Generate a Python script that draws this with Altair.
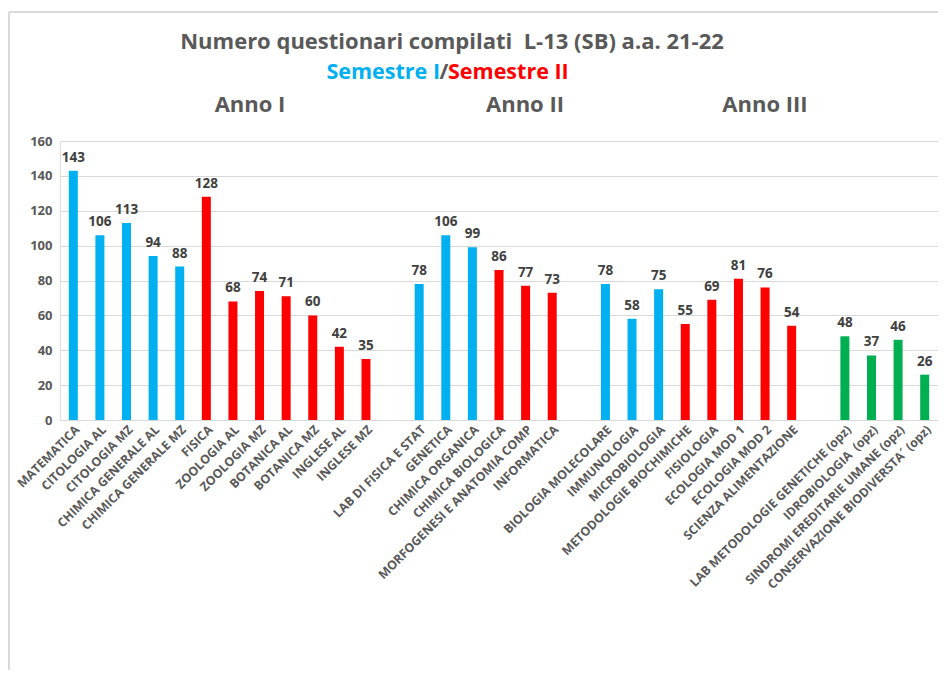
import altair as alt
import pandas as pd

# ---- data ----
anno1 = ["MATEMATICA", "CITOLOGIA AL", "CITOLOGIA MZ", "CHIMICA GENERALE AL", "CHIMICA GENERALE MZ",
         "FISICA", "ZOOLOGIA AL", "ZOOLOGIA MZ", "BOTANICA AL", "BOTANICA MZ", "INGLESE AL", "INGLESE MZ"]
anno1_vals = [143, 106, 113, 94, 88, 128, 68, 74, 71, 60, 42, 35]
anno1_sem = ["I", "I", "I", "I", "I", "II", "II", "II", "II", "II", "II", "II"]

anno2 = ["LAB DI FISICA E STAT", "GENETICA", "CHIMICA ORGANICA", "CHIMICA BIOLOGICA",
         "MORFOGENESI E ANATOMIA COMP", "INFORMATICA"]
anno2_vals = [78, 106, 99, 86, 77, 73]
anno2_sem = ["I", "I", "I", "II", "II", "II"]

anno3 = ["BIOLOGIA MOLECOLARE", "IMMUNOLOGIA", "MICROBIOLOGIA", "METODOLOGIE BIOCHIMICHE",
         "FISIOLOGIA", "ECOLOGIA MOD 1", "ECOLOGIA MOD 2", "SCIENZA ALIMENTAZIONE"]
anno3_vals = [78, 58, 75, 55, 69, 81, 76, 54]
anno3_sem = ["I", "I", "I", "II", "II", "II", "II", "II"]

opz = ["LAB METODOLOGIE GENETICHE (opz)", "IDROBIOLOGIA\u00a0\u00a0(opz)", "SINDROMI EREDITARIE UMANE (opz)",
       "CONSERVAZIONE BIODIVERSTA´ (opz)"]
opz_vals = [48, 37, 46, 26]
opz_sem = ["opz", "opz", "opz", "opz"]

y_ticks = [0, 20, 40, 60, 80, 100, 120, 140, 160]

domain = anno1 + [" "] + anno2 + ["  "] + anno3 + ["   "] + opz

df = pd.DataFrame({
    "corso": anno1 + anno2 + anno3 + opz,
    "valore": anno1_vals + anno2_vals + anno3_vals + opz_vals,
    "semestre": anno1_sem + anno2_sem + anno3_sem + opz_sem,
})

FONT = "Open Sans"
GRAY = "#595959"

x_enc = alt.X("corso:N", sort=domain,
              scale=alt.Scale(domain=domain, paddingInner=0.66, paddingOuter=0.33),
              axis=alt.Axis(title=None, labelAngle=-45, labelAlign="right", labelBaseline="top",
                            labelFont=FONT, labelFontSize=12.3, labelFontWeight="bold", labelColor=GRAY,
                            labelPadding=3, ticks=False, domainColor="#d9d9d9", labelLimit=400))
y_enc = alt.Y("valore:Q", scale=alt.Scale(domain=[0, 160]),
              axis=alt.Axis(title=None, values=y_ticks, labelFont=FONT,
                            labelFontSize=13, labelFontWeight="bold", labelColor=GRAY,
                            ticks=False, domain=False, labelPadding=8, labelOverlap=False,
                            gridColor="#d9d9d9", gridWidth=1))

color_enc = alt.Color("semestre:N", scale=alt.Scale(domain=["I", "II", "opz"],
                                                     range=["#00B0F0", "#FF0000", "#00B050"]),
                      legend=None)

bars = alt.Chart(df).mark_bar(width=9).encode(x=x_enc, y=y_enc, color=color_enc)
labels = alt.Chart(df).mark_text(baseline="bottom", dy=-6, font=FONT, fontSize=13.5,
                                 fontWeight="bold", color="#404040").encode(
    x=x_enc, y=y_enc, text="valore:Q")


def txt(s, x, y, size, color=GRAY, align="center"):
    return alt.Chart(alt.Data(values=[{}])).mark_text(
        text=s, font=FONT, fontSize=size, fontWeight="bold", color=color, align=align,
        baseline="middle").encode(x=alt.value(x), y=alt.value(y))


title = txt("Numero questionari compilati\u00a0\u00a0L-13 (SB) a.a. 21-22", 392, -99, 22)
sub1 = txt("Semestre I", 380, -68, 21.5, "#00B0F0", "right")
sub2 = txt("/", 384, -68, 21.5, GRAY)
sub3 = txt("Semestre II", 388, -68, 21.5, "#FF0000", "left")
a1 = txt("Anno I", 190, -36, 22)
a2 = txt("Anno II", 465, -36, 22)
a3 = txt("Anno III", 705, -36, 22)

frame_left = alt.Chart(alt.Data(values=[{}])).mark_rule(color="#d9d9d9", strokeWidth=2).encode(
    x=alt.value(-51), y=alt.value(-129), y2=alt.value(560))
frame_top = alt.Chart(alt.Data(values=[{}])).mark_rule(color="#d9d9d9", strokeWidth=2).encode(
    x=alt.value(-51), x2=alt.value(900), y=alt.value(-129))

chart = alt.layer(bars, labels, title, sub1, sub2, sub3, a1, a2, a3, frame_left, frame_top).properties(
    width=878, height=279,
    autosize=alt.AutoSizeParams(type="none"),
    padding={"left": 52, "top": 133, "right": 0, "bottom": 250},
).configure_view(stroke=None).configure(background="white")

chart.save("out.html", embed_options={"renderer": "svg", "actions": False})
